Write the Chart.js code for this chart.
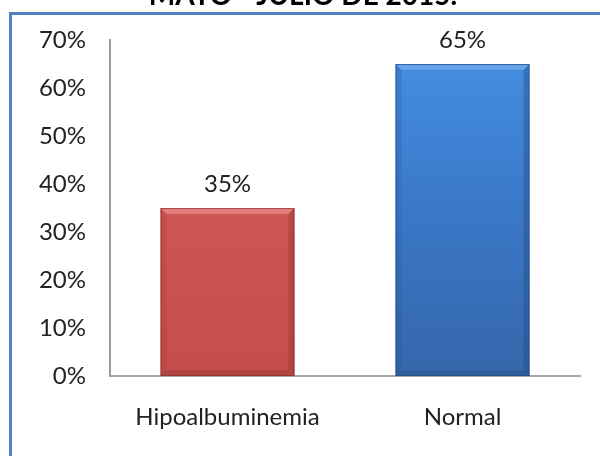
<!DOCTYPE html>
<html>
<head>
<meta charset="utf-8">
<script src="https://cdn.jsdelivr.net/npm/chart.js@4"></script>
<style>
  html, body { margin: 0; padding: 0; background: #ffffff; }
  #wrap { position: relative; width: 600px; height: 456px; overflow: hidden; background: #ffffff; }
  #frame { position: absolute; left: 9px; top: 12px; width: 640px; height: 500px;
           border-left: 3px solid #4F81BD; border-top: 3px solid #4F81BD; box-sizing: border-box; }
  #chart { position: absolute; left: 0; top: 0; }
</style>
</head>
<body>
<div id="wrap">
  <div id="frame"></div>
  <canvas id="chart" width="600" height="456"></canvas>
</div>
<script>
// Distribution of serum albumin status (percent of patients)
const categories = ['Hipoalbuminemia', 'Normal'];
const percentages = [35, 65];
const barColors = [
  { top: '#D65F5C', mid: '#CD5653', bottom: '#C44E4B', edge: '#8E3432', light: '#EE9794' },
  { top: '#4590E3', mid: '#3B78C8', bottom: '#3466AA', edge: '#244C85', light: '#7DB3EE' }
];
const titleText = 'MAYO - JULIO DE 2015.';

const FONT = 'Lato, "Open Sans", sans-serif';

function fillFor(ctx) {
  const chart = ctx.chart;
  const area = chart.chartArea;
  if (!area) return barColors[ctx.dataIndex].mid;
  const c = barColors[ctx.dataIndex];
  const g = chart.ctx.createLinearGradient(0, area.top, 0, area.bottom);
  g.addColorStop(0, c.top);
  g.addColorStop(0.5, c.mid);
  g.addColorStop(1, c.bottom);
  return g;
}

// Bevel edges and value labels drawn from each bar element
const barDecor = {
  id: 'barDecor',
  afterDatasetsDraw(chart) {
    const ctx = chart.ctx;
    const meta = chart.getDatasetMeta(0);
    meta.data.forEach((bar, i) => {
      const c = barColors[i];
      const l = bar.x - bar.width / 2, r = bar.x + bar.width / 2;
      const t = bar.y, b = bar.base;
      const bv = 6;
      ctx.save();
      // top bevel
      ctx.fillStyle = c.light;
      ctx.globalAlpha = 0.6;
      ctx.beginPath();
      ctx.moveTo(l, t); ctx.lineTo(r, t); ctx.lineTo(r - bv, t + bv); ctx.lineTo(l + bv, t + bv); ctx.closePath();
      ctx.fill();
      // left bevel
      ctx.globalAlpha = 0.2;
      ctx.fillStyle = c.edge;
      ctx.beginPath();
      ctx.moveTo(l, t); ctx.lineTo(l + bv, t + bv); ctx.lineTo(l + bv, b - bv); ctx.lineTo(l, b); ctx.closePath();
      ctx.fill();
      // right bevel
      ctx.globalAlpha = 0.4;
      ctx.beginPath();
      ctx.moveTo(r, t); ctx.lineTo(r - bv, t + bv); ctx.lineTo(r - bv, b - bv); ctx.lineTo(r, b); ctx.closePath();
      ctx.fill();
      // bottom bevel
      ctx.globalAlpha = 0.35;
      ctx.beginPath();
      ctx.moveTo(l, b); ctx.lineTo(l + bv, b - bv); ctx.lineTo(r - bv, b - bv); ctx.lineTo(r, b); ctx.closePath();
      ctx.fill();
      // outline
      ctx.globalAlpha = 0.7;
      ctx.strokeStyle = c.edge;
      ctx.lineWidth = 1;
      ctx.strokeRect(l + 0.5, t + 0.5, bar.width - 1, b - t - 1);
      ctx.restore();

      ctx.save();
      ctx.fillStyle = '#222222';
      ctx.font = '24px ' + FONT;
      ctx.textAlign = 'center';
      ctx.textBaseline = 'alphabetic';
      ctx.fillText(percentages[i] + '%', bar.x, t - 16);
      ctx.restore();
    });
  }
};

// Heading line clipped by the top of the frame
const headLine = {
  id: 'headLine',
  afterDraw(chart) {
    const ctx = chart.ctx;
    ctx.save();
    ctx.fillStyle = '#000000';
    ctx.font = 'bold 28px ' + FONT;
    ctx.textAlign = 'center';
    ctx.textBaseline = 'alphabetic';
    ctx.fillText(titleText, 303, 5);
    ctx.restore();
  }
};

new Chart(document.getElementById('chart'), {
  type: 'bar',
  data: {
    labels: categories,
    datasets: [{
      data: percentages,
      backgroundColor: fillFor,
      borderWidth: 0,
      categoryPercentage: 1,
      barPercentage: 0.57
    }]
  },
  options: {
    responsive: false,
    animation: false,
    events: [],
    layout: { padding: { left: 12, right: 20, top: 40, bottom: 0 } },
    plugins: {
      legend: { display: false },
      tooltip: { enabled: false },
      title: { display: false }
    },
    scales: {
      x: {
        grid: { display: false, drawTicks: false },
        border: { display: true, color: '#a6a6a6', width: 2 },
        ticks: { color: '#222222', font: { family: FONT, size: 24 }, padding: 27 },
        afterFit(s) { s.height = 80; }
      },
      y: {
        min: 0,
        max: 70,
        grid: { display: false, drawTicks: false },
        border: { display: true, color: '#9a9a9a', width: 2 },
        ticks: {
          stepSize: 10,
          color: '#222222',
          font: { family: FONT, size: 24 },
          padding: 24,
          callback: v => v + '%'
        },
        afterFit(s) { s.width = 98; }
      }
    }
  },
  plugins: [barDecor, headLine]
});
</script>
</body>
</html>
